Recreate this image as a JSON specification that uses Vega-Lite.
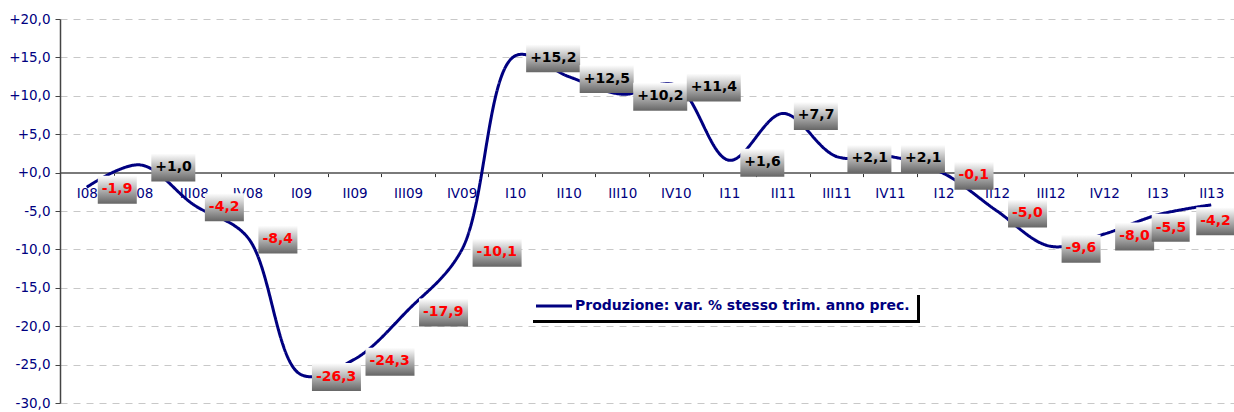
{
  "$schema": "https://vega.github.io/schema/vega-lite/v6.json",
  "width": 1174,
  "height": 384,
  "autosize": {"type": "none"},
  "padding": {"left": 60, "top": 19, "right": 0, "bottom": 9},
  "background": "white",
  "config": {
    "locale": {"number": {"decimal": ",", "thousands": ".", "grouping": [3], "currency": ["", " €"], "minus": "-"}},
    "view": {"stroke": null},
    "font": "DejaVu Sans"
  },
  "data": {"values": [
    {"q": "I08", "v": -1.9}, {"q": "II08", "v": 1.0}, {"q": "III08", "v": -4.2}, {"q": "IV08", "v": -8.4},
    {"q": "I09", "v": -26.3}, {"q": "II09", "v": -24.3}, {"q": "III09", "v": -17.9}, {"q": "IV09", "v": -10.1},
    {"q": "I10", "v": 15.2}, {"q": "II10", "v": 12.5}, {"q": "III10", "v": 10.2}, {"q": "IV10", "v": 11.4},
    {"q": "I11", "v": 1.6}, {"q": "II11", "v": 7.7}, {"q": "III11", "v": 2.1}, {"q": "IV11", "v": 2.1},
    {"q": "I12", "v": -0.1}, {"q": "II12", "v": -5.0}, {"q": "III12", "v": -9.6}, {"q": "IV12", "v": -8.0},
    {"q": "I13", "v": -5.5}, {"q": "II13", "v": -4.2}
  ]},
  "encoding": {
    "x": {
      "field": "q", "type": "nominal", "sort": null, "bandPosition": 0.5,
      "scale": {"type": "band", "paddingInner": 0, "paddingOuter": 0, "range": [0, 1178]},
      "axis": {
        "title": null, "orient": "bottom", "offset": -230.4, "grid": false,
        "domainColor": "#7a7a7a", "domainWidth": 2,
        "tickBand": "extent", "tickColor": "#333333", "tickSize": 4, "tickWidth": 1,
        "labelColor": "#000080", "labelFont": "DejaVu Sans", "labelFontSize": 13.5,
        "labelPadding": 10, "labelAngle": 0, "labelOverlap": false
      }
    },
    "y": {
      "field": "v", "type": "quantitative",
      "scale": {"domain": [-30, 20], "nice": false, "zero": false},
      "axis": {
        "title": null, "values": [-30, -25, -20, -15, -10, -5, 0, 5, 10, 15, 20], "format": "+.1f",
        "domainColor": "#444444", "domainWidth": 1.5, "tickColor": "#444444", "tickSize": 5,
        "labelColor": "#000080", "labelFont": "DejaVu Sans", "labelFontSize": 13.5, "labelPadding": 5,
        "grid": true, "gridColor": "#c8c8c8", "gridDash": [7, 6], "gridWidth": 1
      }
    }
  },
  "layer": [
    {
      "mark": {"type": "line", "opacity": 0},
      "encoding": {
        "color": {
          "datum": "shadow", "type": "nominal",
          "scale": {"range": ["black"]},
          "legend": {
            "title": null, "orient": "none", "legendX": 473, "legendY": 276,
            "fillColor": "black", "padding": 7,
            "labelExpr": "'Produzione: var. % stesso trim. anno prec.'",
            "symbolType": "M-4,0H14", "symbolSize": 16, "symbolStrokeColor": "black", "symbolStrokeWidth": 3,
            "symbolFillColor": "transparent", "symbolOpacity": 1,
            "labelFont": "DejaVu Sans", "labelFontSize": 14, "labelFontWeight": "bold",
            "labelColor": "black", "labelLimit": 0, "labelOffset": 24
          }
        }
      }
    },
    {
      "mark": {"type": "line", "interpolate": "catmull-rom", "strokeWidth": 3, "color": "#000080"},
      "encoding": {
        "strokeDash": {
          "datum": "Produzione: var. % stesso trim. anno prec.", "type": "nominal",
          "scale": {"range": [[1, 0]]},
          "legend": {
            "title": null, "orient": "none", "legendX": 470, "legendY": 273,
            "fillColor": "white", "padding": 7,
            "symbolType": "M-4,0H14", "symbolSize": 16, "symbolStrokeColor": "#000080", "symbolStrokeWidth": 3,
            "symbolFillColor": "transparent",
            "labelFont": "DejaVu Sans", "labelFontSize": 14, "labelFontWeight": "bold",
            "labelColor": "#000080", "labelLimit": 0, "labelOffset": 24
          }
        }
      }
    },
    {
      "mark": {
        "type": "point", "filled": true, "size": 4, "opacity": 1, "strokeWidth": 0,
        "fill": {"gradient": "linear", "x1": 0, "y1": 0, "x2": 0, "y2": 1,
          "stops": [{"offset": 0, "color": "#ffffff"}, {"offset": 1, "color": "#666666"}]}
      },
      "encoding": {
        "shape": {
          "condition": [
            {"test": "datum.q == 'II13'", "value": "M-15,2.5H23V30.5H-15Z"},
            {"test": "datum.q == 'I13'", "value": "M-6,-1H32V27H-6Z"},
            {"test": "datum.v >= 0 && abs(datum.v) >= 10", "value": "M11,-11.5H65V16.5H11Z"},
            {"test": "datum.v >= 0", "value": "M11,-11.5H55V16.5H11Z"},
            {"test": "abs(datum.v) >= 10", "value": "M11,-11.5H60V16.5H11Z"}
          ],
          "value": "M11,-11.5H50V16.5H11Z"
        }
      }
    },
    {
      "mark": {"type": "text", "align": "left", "baseline": "middle",
        "dx": {"expr": "datum.q == 'II13' ? -11 : datum.q == 'I13' ? -2 : 15"},
        "dy": {"expr": "datum.q == 'II13' ? 16.5 : datum.q == 'I13' ? 13 : 2"},
        "font": "DejaVu Sans", "fontSize": 14, "fontWeight": "bold"},
      "encoding": {
        "text": {"field": "v", "type": "quantitative", "format": "+.1f"},
        "color": {"condition": {"test": "datum.v < 0", "value": "#ff0000"}, "value": "#000000"}
      }
    }
  ]
}
